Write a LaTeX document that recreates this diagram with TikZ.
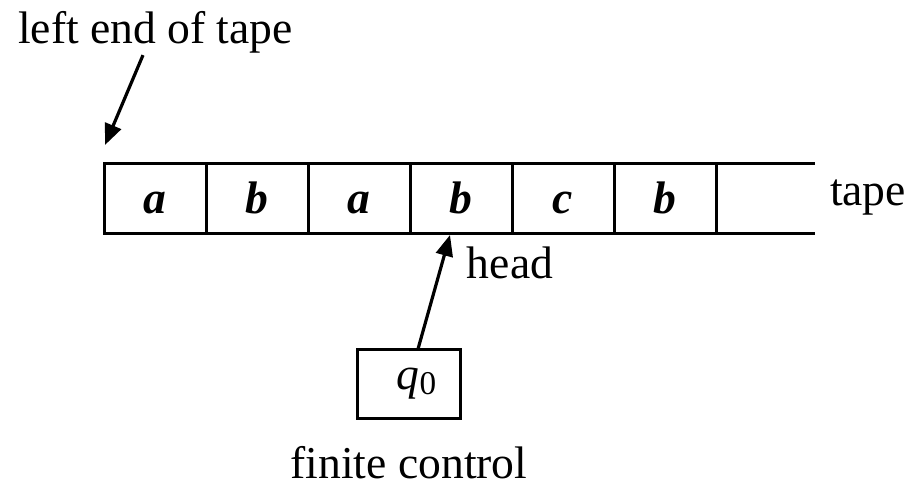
\documentclass[tikz,border=0pt]{standalone}
\usepackage{fontspec}
\setmainfont{Liberation Serif}
\usetikzlibrary{arrows.meta}

\begin{document}
\begin{tikzpicture}[x=0.5pt,y=-0.5pt,
    every node/.style={font=\fontsize{22.8}{27}\selectfont,inner sep=0pt},
    cell/.style={draw,line width=1.5pt,outer sep=0pt,minimum width=51pt,minimum height=35pt,
      text height=16pt,text depth=1pt,font=\fontsize{22.8}{27}\selectfont\bfseries\itshape},
    ctrl/.style={draw,line width=1.5pt,outer sep=0pt,minimum width=51.5pt,minimum height=34.5pt},
    arr/.style={line width=1.6pt,-{Triangle[length=10.5pt,width=8.5pt]}}]

\useasboundingbox (0,0) rectangle (922,487);

% tape cells
\node[cell] (c1) at (155,198) {a};
\node[cell] (c2) at (257,198) {b};
\node[cell] (c3) at (359,198) {a};
\node[cell] (c4) at (461,198) {b};
\node[cell] (c5) at (563,198) {c};
\node[cell] (c6) at (665,198) {b};
\coordinate (etop) at (815,163);
\coordinate (ebot) at (815,233);
\draw[line width=1.5pt] (c6.north east) -- (etop);
\draw[line width=1.5pt] (c6.south east) -- (ebot);

% labels
\node[anchor=base] (tapelbl) at (868,205) {tape};
\node[anchor=base] (lend) at (155.5,43) {left end of tape};
\node[anchor=base] (headlbl) at (510,278) {head};

% finite control
\node[ctrl] (q) at (408.5,383.5) {\hspace{8pt}\textit{q}\raisebox{-2.5pt}{\fontsize{16.6}{18}\selectfont 0}};
\node[anchor=base] (fc) at (409,478) {finite control};

\draw[arr] ([shift={(-12.5,2)}]lend.south) -- ([shift={(1,-18)}]c1.north west);
\draw[arr] ([shift={(9.5,0)}]q.north) -- ([shift={(-11,2)}]c4.south);
\end{tikzpicture}
\end{document}
